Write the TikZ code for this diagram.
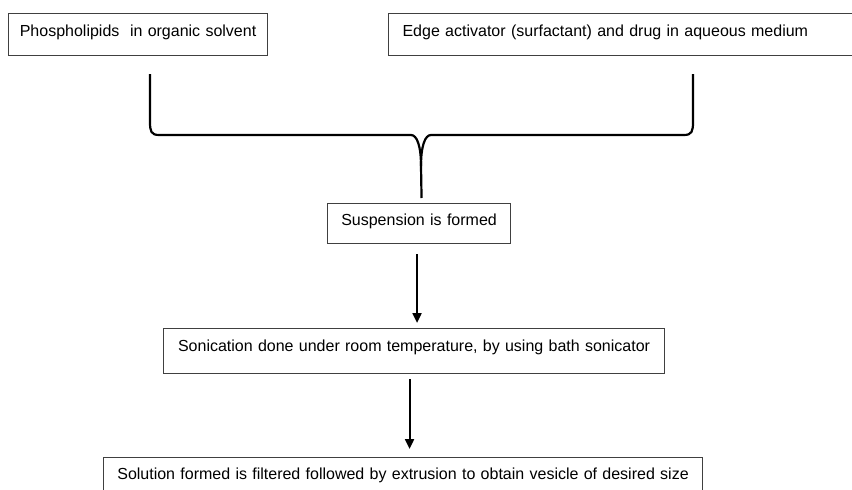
\documentclass[tikz,border=0pt]{standalone}
\usepackage{fontspec}
\setmainfont{Liberation Sans}
\usetikzlibrary{arrows.meta}
\newcommand{\boxfont}{\fontsize{16}{19}\selectfont\spaceskip=5.3pt plus 1pt\relax}
\tikzset{stepbox/.style={draw=black!75,line width=1.1pt,inner sep=0pt,
        anchor=north west,font=\boxfont},
  flow/.style={line width=2pt,-{Triangle[length=10pt,width=9pt]}},
  brace/.style={line width=2.2pt,line join=round}}

\begin{document}
\begin{tikzpicture}[x=1pt,y=-1pt]
  \useasboundingbox (0,0) rectangle (852,490);
  %% starting materials
  \node[stepbox,minimum width=259pt,text height=23pt,text depth=19pt]
       (oil) at (8,13) {Phospholipids\ \ in organic solvent};
  \node[stepbox,inner xsep=14pt,text width=440pt,align=left,
        text height=23pt,text depth=19pt]
       (aqueous) at (388,13) {Edge activator (surfactant) and drug in aqueous medium};
  %% process steps
  \node[stepbox,minimum width=183pt,text height=22pt,text depth=18pt]
       (susp) at (327,203) {Suspension is formed};
  \node[stepbox,minimum width=501pt,text height=23pt,text depth=22pt]
       (sonic) at (163,328) {Sonication done under room temperature, by using bath sonicator};
  \node[stepbox,minimum width=599pt,text height=22pt,text depth=23pt]
       (final) at (103,457) {Solution formed is filtered followed by extrusion to obtain vesicle of desired size};
  %% brace joining both inputs
  \coordinate (braceL) at (150,74);
  \coordinate (braceR) at (693,74);
  \coordinate (cusp) at ([xshift=2.5pt,yshift=5pt]susp.north);
  \draw[brace] (braceL) -- (150,122) .. controls (150,131) and (151,135) .. (159,135)
        -- (411,135) .. controls (417,135) and (421,146) .. (421,166) -- (cusp);
  \draw[brace] (braceR) -- (693,122) .. controls (693,131) and (692,135) .. (684,135)
        -- (431,135) .. controls (425,135) and (421,146) .. (421,166);
  %% arrows
  \draw[flow] ([xshift=-2pt,yshift=-10pt]susp.south)
        -- ([xshift=-2pt,yshift=5pt]susp.south |- sonic.north);
  \draw[flow] ([xshift=-4.5pt,yshift=-5pt]sonic.south)
        -- ([xshift=-4.5pt,yshift=8pt]sonic.south |- final.north);
\end{tikzpicture}
\end{document}
